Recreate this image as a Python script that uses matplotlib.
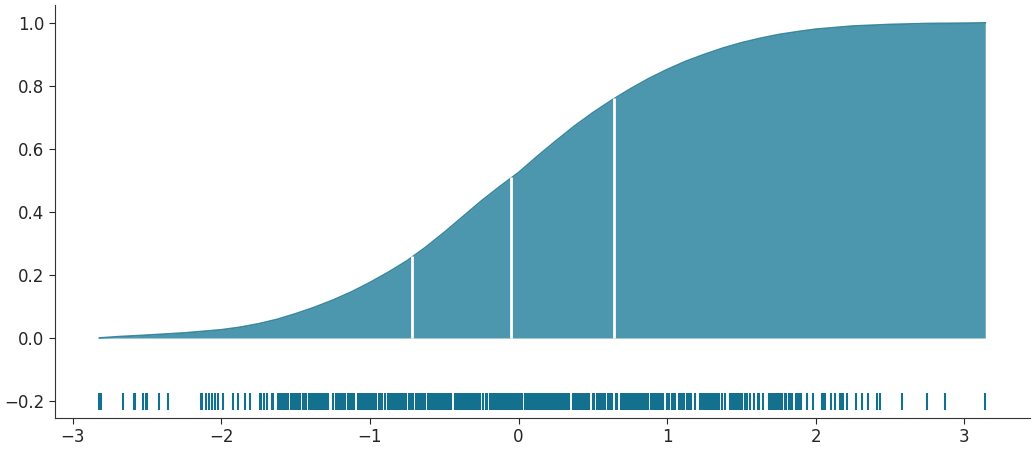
import numpy as np
import matplotlib
matplotlib.use("Agg")
import matplotlib.pyplot as plt

# cumulative curve
curve_x = [-2.82, -2.7, -2.5, -2.25, -2.0, -1.875, -1.75, -1.625, -1.5, -1.375, -1.25,
           -1.125, -1.0, -0.875, -0.75, -0.625, -0.5, -0.375, -0.25, -0.125, 0.0,
           0.125, 0.25, 0.375, 0.5, 0.625, 0.75, 0.875, 1.0, 1.125, 1.25, 1.375, 1.5,
           1.625, 1.75, 1.875, 2.0, 2.25, 2.5, 2.75, 3.0, 3.14]
curve_y = [0.0, 0.004, 0.009, 0.016, 0.026, 0.034, 0.045, 0.059, 0.077, 0.097, 0.12,
           0.146, 0.176, 0.209, 0.245, 0.288, 0.335, 0.385, 0.435, 0.481, 0.525,
           0.576, 0.625, 0.672, 0.715, 0.754, 0.79, 0.823, 0.852, 0.878, 0.9, 0.92, 0.937,
           0.951, 0.963, 0.972, 0.98, 0.99, 0.995, 0.998, 0.999, 1.0]

# quartile marks
quart_x = [-0.72, -0.05, 0.64]

# rug (sample values)
rug = [
    -2.82, -2.81, -2.66, -2.59, -2.58, -2.53, -2.51, -2.50, -2.42, -2.36,
    -2.14, -2.13, -2.10, -2.08, -2.06, -2.04, -2.02, -1.99, -1.92, -1.89, -1.84, -1.81,
    -1.74, -1.73, -1.71, -1.69, -1.66, -1.65,
    -1.62, -1.61, -1.60, -1.59, -1.58, -1.57, -1.56, -1.55, -1.53, -1.52, -1.51, -1.50,
    -1.49, -1.48, -1.47, -1.45, -1.44, -1.43,
    -1.41, -1.40, -1.39, -1.38, -1.37, -1.36, -1.35, -1.34, -1.33, -1.32, -1.31, -1.30,
    -1.29, -1.28, -1.25,
    -1.23, -1.22, -1.21, -1.20, -1.19, -1.18, -1.17, -1.15, -1.14, -1.13, -1.12, -1.11,
    -1.08, -1.07, -1.06, -1.05, -1.04, -1.03, -1.02, -1.01, -1.00, -0.99, -0.98, -0.97,
    -0.96, -0.94, -0.93, -0.92, -0.90, -0.88, -0.87, -0.86, -0.85, -0.84, -0.83, -0.82,
    -0.81, -0.80, -0.79, -0.78, -0.77, -0.76, -0.74, -0.73, -0.72, -0.71,
    -0.69, -0.68, -0.67, -0.66, -0.65, -0.64, -0.63, -0.61, -0.60, -0.59, -0.58, -0.57,
    -0.56, -0.55, -0.535, -0.525, -0.515, -0.505, -0.495, -0.485, -0.475, -0.465, -0.455,
    -0.43, -0.42, -0.41, -0.40, -0.39, -0.38, -0.37, -0.36, -0.35, -0.34, -0.33, -0.32,
    -0.31, -0.30, -0.29, -0.28, -0.27, -0.26, -0.24, -0.22, -0.21, -0.19, -0.18, -0.17, -0.16,
    -0.15, -0.14, -0.13, -0.12, -0.11, -0.10, -0.09, -0.08, -0.07, -0.06, -0.05, -0.04,
    -0.03, -0.02, -0.01, 0.00, 0.01, 0.02, 0.04, 0.06, 0.07, 0.08, 0.09, 0.10, 0.11, 0.12,
    0.13, 0.14, 0.15, 0.16, 0.17, 0.18, 0.19, 0.20, 0.21, 0.22, 0.23, 0.24, 0.25, 0.26,
    0.27, 0.28, 0.29, 0.30, 0.31, 0.32, 0.33, 0.34,
    0.365, 0.375, 0.385, 0.395, 0.405, 0.415, 0.425, 0.435, 0.445, 0.455, 0.465, 0.475,
    0.50, 0.51, 0.53, 0.54, 0.55, 0.56, 0.57, 0.58, 0.60, 0.61, 0.62, 0.63, 0.655, 0.665,
    0.69, 0.70, 0.71, 0.72, 0.73, 0.74, 0.75, 0.76, 0.77, 0.78, 0.79, 0.80, 0.81, 0.82,
    0.83, 0.84, 0.85, 0.86, 0.87, 0.89,
    0.90, 0.91, 0.92, 0.93, 0.945, 0.955, 0.965, 0.975, 1.00, 1.01, 1.035, 1.045, 1.055,
    1.08, 1.09, 1.10, 1.11, 1.13, 1.15, 1.16, 1.19, 1.22, 1.23, 1.24, 1.25, 1.26, 1.27,
    1.28, 1.29, 1.30, 1.31, 1.32, 1.33, 1.34, 1.35, 1.37, 1.39,
    1.42, 1.43, 1.44, 1.45, 1.46, 1.47, 1.48, 1.495, 1.505, 1.525, 1.535, 1.555, 1.585,
    1.61, 1.62, 1.645, 1.685, 1.695, 1.705, 1.715, 1.725, 1.735, 1.745, 1.755, 1.765,
    1.775, 1.79, 1.80, 1.82, 1.83, 1.84, 1.87, 1.88, 1.89, 1.90, 1.94, 1.98,
    2.04, 2.05, 2.06, 2.10, 2.13, 2.16, 2.17, 2.18, 2.21, 2.27, 2.31, 2.35, 2.41, 2.43,
    2.58, 2.75, 2.87, 3.14,
]

fill_color = '#4c97ad'
edge_color = '#3a889f'
rug_color = '#13718f'

fig = plt.figure(figsize=(10.35, 4.5), dpi=100)
ax = fig.add_axes([0.053, 0.071, 0.942, 0.918])

ax.fill_between(curve_x, 0, curve_y, color=fill_color, lw=0)
ax.plot(curve_x, curve_y, color=edge_color, lw=1.3)
# quartile lines go up to the curve
quart_top = np.interp(quart_x, curve_x, curve_y)
ax.vlines(quart_x, 0, quart_top + 0.004, color='white', lw=2)
ax.vlines(rug, -0.229, -0.175, color=rug_color, lw=1.5)

ax.set_xlim(-3.12, 3.44)
ax.set_ylim(-0.254, 1.057)
ax.set_yticks([-0.2, 0.0, 0.2, 0.4, 0.6, 0.8, 1.0])
ax.set_xticks([-3, -2, -1, 0, 1, 2, 3])

for s in ['top', 'right']:
    ax.spines[s].set_visible(False)
for s in ['left', 'bottom']:
    ax.spines[s].set_color('#333333')
ax.tick_params(labelsize=12, colors='#262626', length=4)

fig.savefig('out.png', dpi=100)
